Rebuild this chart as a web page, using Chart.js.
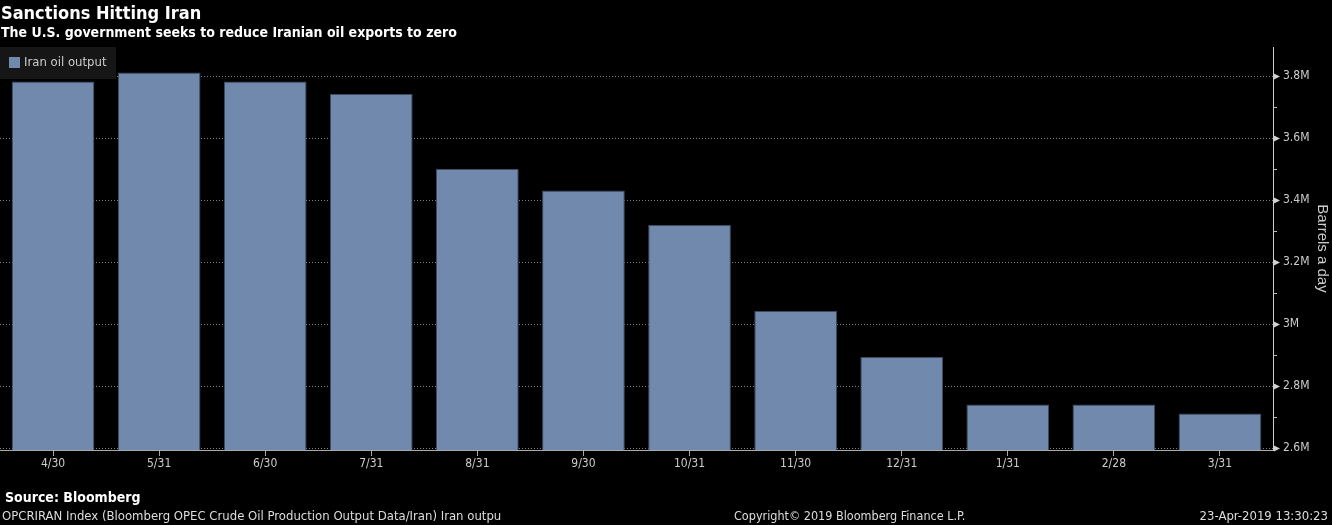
<!DOCTYPE html>
<html>
<head>
<meta charset="utf-8">
<title>Sanctions Hitting Iran</title>
<script src="https://cdn.jsdelivr.net/npm/chart.js@4.4.1/dist/chart.umd.min.js"></script>
<style>
  html, body { margin: 0; padding: 0; background: #000; }
  body { width: 1332px; height: 525px; position: relative; overflow: hidden; }
  #wrap { position: absolute; left: 0; top: 0; width: 1332px; height: 525px; }
  .txt { position: absolute; white-space: nowrap; font-family: "DejaVu Sans Condensed", "DejaVu Sans", sans-serif; }
  #title { left: 1px; top: 2px; font-size: 18px; line-height: 22px; font-weight: bold; color: #fff; }
  #subtitle { left: 1px; top: 24px; font-size: 14px; line-height: 16px; font-weight: bold; color: #fff; }
  #source { left: 5px; top: 489px; font-size: 14px; line-height: 16px; font-weight: bold; color: #fff; }
  #ticker { left: 2px; top: 508px; font-size: 13px; line-height: 16px; color: #ddd; }
  #copy { left: 734px; top: 508px; font-size: 12.5px; line-height: 16px; color: #ddd; }
  #stamp { right: 4px; top: 508px; font-size: 13px; line-height: 16px; color: #ddd; }
</style>
</head>
<body>
<div id="wrap"><canvas id="chart"></canvas></div>
<div class="txt" id="title">Sanctions Hitting Iran</div>
<div class="txt" id="subtitle">The U.S. government seeks to reduce Iranian oil exports to zero</div>
<div class="txt" id="source">Source: Bloomberg</div>
<div class="txt" id="ticker">OPCRIRAN Index (Bloomberg OPEC Crude Oil Production Output Data/Iran) Iran outpu</div>
<div class="txt" id="copy">Copyright© 2019 Bloomberg Finance L.P.</div>
<div class="txt" id="stamp">23-Apr-2019 13:30:23</div>
<script>
// month-end dates, Apr 2018 - Mar 2019
var months = ['4/30', '5/31', '6/30', '7/31', '8/31', '9/30', '10/31', '11/30', '12/31', '1/31', '2/28', '3/31'];
// barrels a day
var ironOutput = [3783000, 3812000, 3783000, 3742000, 3501000, 3431000, 3320000, 3042000, 2894000, 2741000, 2741000, 2712000];
var yTicks = [2600000, 2800000, 3000000, 3200000, 3400000, 3600000, 3800000];
var yMin = 2594000, yMax = 3894000;

var barColor = '#7189ad';
var condensed = 'DejaVu Sans Condensed';

// legend box, minor ticks and tick arrows on the right axis
var decor = {
  id: 'decor',
  afterDraw: function (chart) {
    var ctx = chart.ctx, y = chart.scales.y, area = chart.chartArea;
    ctx.save();

    ctx.fillStyle = '#d0d0d0';
    yTicks.forEach(function (v) {
      var py = Math.round(y.getPixelForValue(v)) + 0.5;
      ctx.beginPath();
      ctx.moveTo(area.right + 1, py - 3);
      ctx.lineTo(area.right + 7, py);
      ctx.lineTo(area.right + 1, py + 3);
      ctx.closePath();
      ctx.fill();
    });

    ctx.strokeStyle = '#bbbbbb';
    ctx.lineWidth = 1;
    for (var i = 0; i < yTicks.length - 1; i++) {
      var my = Math.round(y.getPixelForValue((yTicks[i] + yTicks[i + 1]) / 2)) + 0.5;
      ctx.beginPath();
      ctx.moveTo(area.right, my);
      ctx.lineTo(area.right + 4, my);
      ctx.stroke();
    }

    // legend
    var lx = area.left, ly = area.top;
    ctx.fillStyle = '#161616';
    ctx.fillRect(lx, ly, 116, 32);
    ctx.fillStyle = barColor;
    ctx.fillRect(lx + 9, ly + 10, 11, 11);
    ctx.fillStyle = '#cccccc';
    ctx.font = '13px "' + condensed + '"';
    ctx.textBaseline = 'middle';
    ctx.fillText(chart.data.datasets[0].label, lx + 24, ly + 16);

    ctx.restore();
  }
};

new Chart(document.getElementById('chart'), {
  type: 'bar',
  data: {
    labels: months,
    datasets: [{
      label: 'Iran oil output',
      data: ironOutput,
      backgroundColor: barColor,
      borderColor: '#3e4a60',
      borderWidth: 1,
      barPercentage: 0.78,
      categoryPercentage: 1.0
    }]
  },
  options: {
    responsive: true,
    maintainAspectRatio: false,
    animation: false,
    layout: { padding: { top: 47, bottom: 50, left: 0, right: 0 } },
    plugins: {
      legend: { display: false },
      tooltip: { enabled: false }
    },
    scales: {
      x: {
        afterFit: function (scale) { scale.height = 25; },
        grid: {
          offset: false,
          drawOnChartArea: false,
          tickLength: 6,
          tickColor: '#aaaaaa'
        },
        border: { color: '#aaaaaa' },
        ticks: {
          color: '#cccccc',
          padding: 1,
          maxRotation: 0,
          font: { family: condensed, size: 12 }
        }
      },
      y: {
        position: 'right',
        min: yMin,
        max: yMax,
        afterFit: function (scale) { scale.width = 59; },
        afterBuildTicks: function (scale) {
          scale.ticks = yTicks.map(function (v) { return { value: v }; });
        },
        grid: {
          color: '#808080',
          tickColor: 'rgba(0,0,0,0)',
          tickLength: 7,
          drawTicks: true
        },
        border: { color: '#cccccc', dash: [1, 2] },
        ticks: {
          color: '#cccccc',
          padding: 3,
          font: { family: condensed, size: 12 },
          callback: function (v) { return (v / 1000000) + 'M'; }
        },
        title: {
          display: true,
          text: 'Barrels a day',
          color: '#cccccc',
          padding: { top: 1, bottom: 0 },
          font: { family: 'Liberation Sans', size: 15 }
        }
      }
    }
  },
  plugins: [decor]
});
</script>
</body>
</html>
